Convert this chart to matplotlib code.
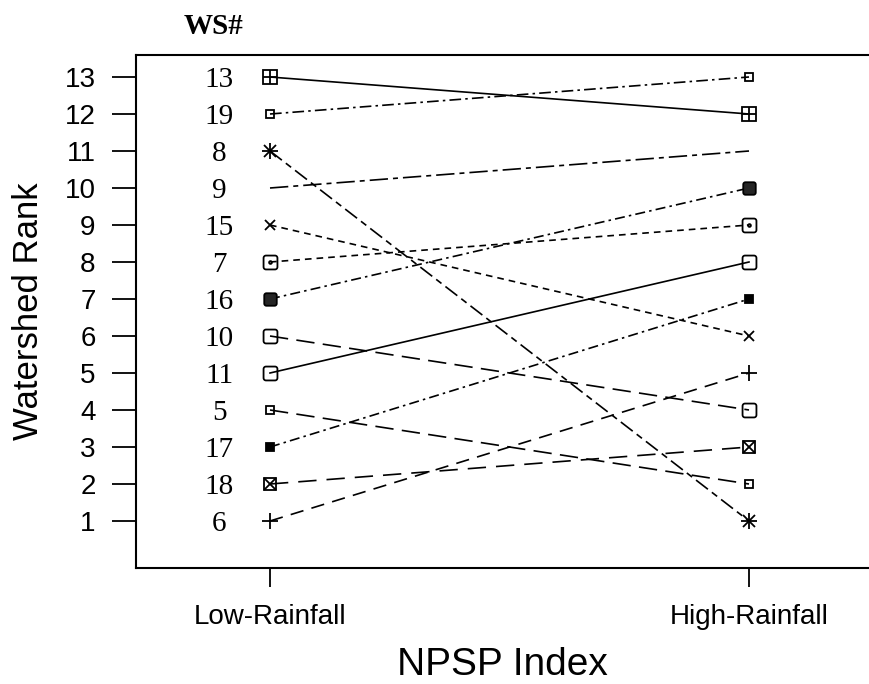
import numpy as np
import matplotlib
matplotlib.use("Agg")
import matplotlib.pyplot as plt
from matplotlib.path import Path

# watershed ranks under the two rainfall scenarios
watersheds = ["13", "19", "8", "9", "15", "7", "16", "10", "11", "5", "17", "18", "6"]
low_rank = [13, 12, 11, 10, 9, 8, 7, 6, 5, 4, 3, 2, 1]
high_rank = [12, 13, 1, 11, 6, 9, 10, 4, 8, 2, 7, 3, 5]
scenarios = ["Low-Rainfall", "High-Rainfall"]

plt.rcParams["font.family"] = ["Liberation Sans", "DejaVu Sans"]


def rounded_square(r=0.35, n=8):
    # closed path of a square with rounded corners, centred on 0
    pts = []
    for cx, cy, a0 in [(1 - r, 1 - r, 0), (-1 + r, 1 - r, 90),
                       (-1 + r, -1 + r, 180), (1 - r, -1 + r, 270)]:
        for t in np.linspace(a0, a0 + 90, n):
            pts.append((cx + r * np.cos(np.radians(t)), cy + r * np.sin(np.radians(t))))
    pts.append(pts[0])
    return Path(pts, closed=True)


RSQ = rounded_square()

# per-watershed line dash and end symbols
styles = {
    "13": ("-", [("s", 10, "none"), ("+", 10, None)]),
    "19": ((0, (7, 2.5, 1.5, 2.5)), [("s", 6, "none")]),
    "8": ((0, (9, 3, 4, 3)), [("+", 11, None), ("x", 8, None)]),
    "9": ((0, (11, 3, 3, 3)), []),
    "15": ((0, (4, 3)), [("x", 7, None)]),
    "7": ((0, (4, 3)), [(RSQ, 10, "none"), (".", 4, None)]),
    "16": ((0, (6, 2.5, 1.5, 2.5)), [(RSQ, 9, "0.15")]),
    "10": ((0, (11, 5)), [(RSQ, 10, "none")]),
    "11": ("-", [(RSQ, 10, "none")]),
    "5": ((0, (11, 5)), [("s", 6, "none")]),
    "17": ((0, (6, 2.5, 1.5, 2.5)), [("s", 6, "black")]),
    "18": ((0, (11, 6)), [("s", 9, "none"), ("x", 9, None)]),
    "6": ((0, (8, 5)), [("+", 11, None)]),
}

fig = plt.figure(figsize=(8.69, 6.84), dpi=100)
ax = fig.add_axes([136 / 869, 1 - 568 / 684, 1 - 136 / 869, (568 - 55) / 684])

xs = [1, 2]
for ws, lo, hi in zip(watersheds, low_rank, high_rank):
    ls, marks = styles[ws]
    ax.plot(xs, [lo, hi], color="black", lw=1.2, ls=ls, clip_on=False)
    for m, size, fc in marks:
        kw = dict(marker=m, markersize=size, markeredgecolor="black",
                  markeredgewidth=1.3, ls="none", clip_on=False, zorder=3)
        if fc is not None:
            kw["markerfacecolor"] = fc
        ax.plot(xs, [lo, hi], **kw)
    ax.annotate(ws, xy=(1, lo), xytext=(-36.5, 0), textcoords="offset points",
                ha="center", va="center_baseline", fontsize=21,
                family=["Liberation Serif", "DejaVu Serif"])

ax.annotate("WS#", xy=(1, 13), xytext=(-41, 36), textcoords="offset points",
            ha="center", va="center", fontsize=21, fontweight="bold",
            family=["Liberation Serif", "DejaVu Serif"], annotation_clip=False)

ax.set_xlim(1 - 134 / 479, 2 + 120 / 479)
ax.set_ylim(1 - 47 / 37, 13 + 22 / 37)
ax.set_xticks(xs)
ax.set_xticklabels(scenarios)
ax.set_yticks(range(1, 14))

ax.spines["right"].set_visible(False)
for s in ["left", "top", "bottom"]:
    ax.spines[s].set_linewidth(1.5)

ax.tick_params(axis="y", length=17, width=1.3, pad=12, labelsize=20)
ax.tick_params(axis="x", length=14, width=1.3, pad=12, labelsize=20)

ax.set_ylabel("Watershed Rank", fontsize=25, labelpad=14)
ax.set_xlabel("NPSP Index", fontsize=28, labelpad=12)

fig.savefig("out.png", dpi=100)
plt.close(fig)
